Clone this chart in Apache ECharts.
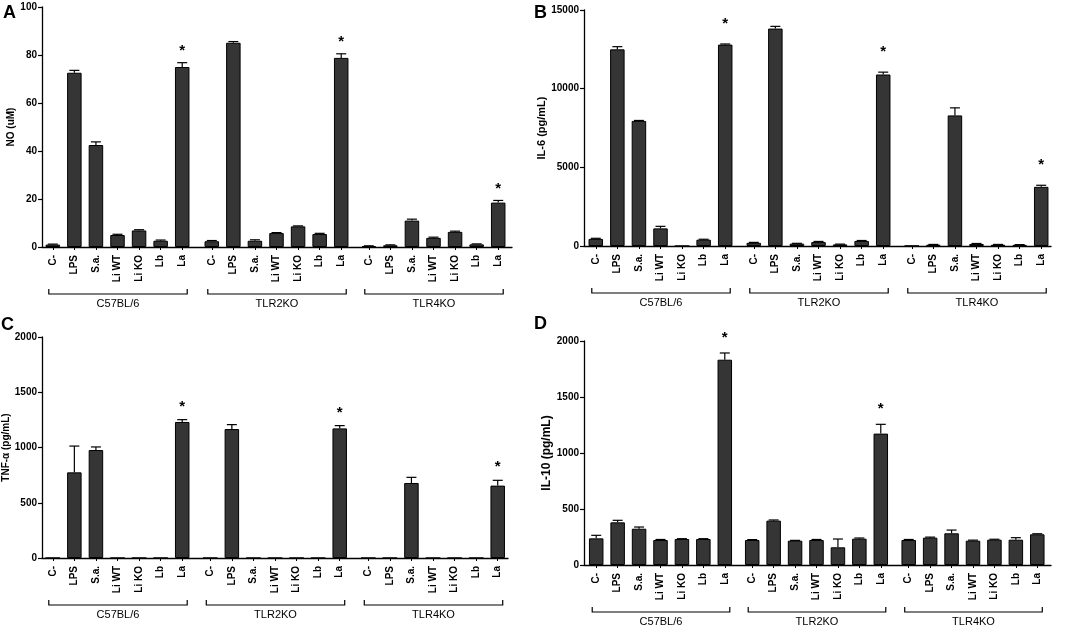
<!DOCTYPE html>
<html>
<head>
<meta charset="utf-8">
<script src="https://cdn.jsdelivr.net/npm/echarts@6/dist/echarts.min.js"></script>
<style>
html, body { margin: 0; padding: 0; background: #fff; }
#chart { width: 1074px; height: 630px; }
</style>
</head>
<body>
<div id="chart"></div>
<script>
var treatments = ["C-", "LPS", "S.a.", "Li WT", "Li KO", "Lb", "La"];
var strains = ["C57BL/6", "TLR2KO", "TLR4KO"];

// one row per strain, columns follow treatments
var noMean = [
  [1.0, 72.6, 42.5, 5.0, 6.9, 2.6, 75.0],
  [2.4, 85.1, 2.6, 5.8, 8.6, 5.4, 78.8],
  [0.4, 0.7, 11.0, 3.8, 6.3, 1.1, 18.5]
];
var noErr = [
  [0.2, 1.0, 1.3, 0.3, 0.3, 0.3, 1.8],
  [0.3, 0.5, 0.4, 0.2, 0.2, 0.3, 1.7],
  [0.1, 0.2, 0.6, 0.3, 0.3, 0.2, 0.9]
];
var noStar = ["La", "La", "La"];

var il6Mean = [
  [450, 12500, 7950, 1120, 0, 400, 12800],
  [200, 13820, 150, 250, 100, 320, 10900],
  [10, 80, 8300, 130, 80, 70, 3760]
];
var il6Err = [
  [40, 170, 30, 130, 0, 30, 40],
  [30, 140, 20, 40, 20, 30, 150],
  [0, 20, 480, 30, 20, 20, 100]
];
var il6Star = ["La", "La", "La"];

var tnfMean = [
  [0, 775, 977, 0, 0, 0, 1231],
  [0, 1167, 0, 0, 0, 0, 1173],
  [0, 0, 679, 0, 0, 0, 655]
];
var tnfErr = [
  [0, 238, 28, 0, 0, 0, 21],
  [0, 40, 0, 0, 0, 0, 25],
  [0, 0, 51, 0, 0, 0, 48]
];
var tnfStar = ["La", "La", "La"];

var il10Mean = [
  [238, 381, 324, 223, 232, 232, 1833],
  [223, 396, 217, 223, 158, 235, 1173],
  [223, 244, 283, 217, 226, 226, 274]
];
var il10Err = [
  [27, 18, 15, 5, 3, 3, 60],
  [4, 6, 3, 5, 74, 6, 83],
  [5, 5, 29, 5, 4, 18, 5]
];
var il10Star = ["La", "La", ""];

var panels = [
  { letter: "A", yName: "NO (uM)", max: 100, interval: 20, mean: noMean, err: noErr, star: noStar,
    x: 42, top: 7, bottom: 247, end: 512, starts: [42, 201, 358], gw: 151, nameGap: 26, nameSize: 10, starGap: 12 },
  { letter: "B", yName: "IL-6 (pg/mL)", max: 15000, interval: 5000, mean: il6Mean, err: il6Err, star: il6Star,
    x: 584, top: 10, bottom: 246, end: 1051, starts: [585, 743, 901], gw: 151, nameGap: 34, nameSize: 11, starGap: 20 },
  { letter: "C", yName: "TNF-\u03b1 (pg/mL)", max: 2000, interval: 500, mean: tnfMean, err: tnfErr, star: tnfStar,
    x: 42, top: 337, bottom: 558, end: 508, starts: [42, 199.5, 357.5], gw: 151, nameGap: 29, nameSize: 10, starGap: 13 },
  { letter: "D", yName: "IL-10 (pg/mL)", max: 2000, interval: 500, mean: il10Mean, err: il10Err, star: il10Star,
    x: 584, top: 341, bottom: 565, end: 1051, starts: [585.5, 741.5, 898], gw: 150, nameGap: 31, nameSize: 12, starGap: 15 }
];

var FONT = "Liberation Sans, Arial, sans-serif";

function errorRender(starGap) {
  return function (params, api) {
    var x = api.value(0), m = api.value(1), e = api.value(2);
    var base = api.coord([x, m]);
    var top = api.coord([x, m + e]);
    var kids = [];
    if (e > 0) {
      kids.push({ type: "line", shape: { x1: base[0], y1: base[1], x2: top[0], y2: top[1] },
        style: { stroke: "#000", lineWidth: 1.2 } });
      kids.push({ type: "line", shape: { x1: top[0] - 5, y1: top[1], x2: top[0] + 5, y2: top[1] },
        style: { stroke: "#000", lineWidth: 1.2 } });
    }
    if (api.value(3)) {
      kids.push({ type: "text", style: { text: "*", x: top[0], y: top[1] - starGap, align: "center",
        verticalAlign: "middle", font: "bold 15px " + FONT, fill: "#000" } });
    }
    return { type: "group", children: kids };
  };
}

var grids = [], xAxes = [], yAxes = [], series = [], groupAxis = [];

panels.forEach(function (p, pi) {
  // frame grid: y axis and the continuous x axis line
  var fi = grids.length;
  grids.push({ left: p.x, top: p.top, width: p.end - p.x, height: p.bottom - p.top, outerBoundsMode: "none" });
  xAxes.push({ gridIndex: fi, type: "value", min: 0, max: 1,
    axisLine: { show: true, lineStyle: { color: "#000", width: 1.3 } },
    axisTick: { show: false }, axisLabel: { show: false }, splitLine: { show: false } });
  yAxes.push({ gridIndex: fi, type: "value", min: 0, max: p.max, interval: p.interval,
    name: p.yName, nameLocation: "middle", nameGap: p.nameGap,
    nameTextStyle: { fontFamily: FONT, fontWeight: "bold", fontSize: p.nameSize, color: "#000" },
    axisLine: { show: true, lineStyle: { color: "#000", width: 1.3 } },
    axisTick: { show: true, length: 4, lineStyle: { color: "#000", width: 1.2 } },
    axisLabel: { fontFamily: FONT, fontWeight: "bold", fontSize: 10, color: "#000", margin: 5,
      formatter: function (v) { return String(v); } },
    splitLine: { show: false } });

  strains.forEach(function (s, gi) {
    var idx = grids.length;
    grids.push({ left: p.starts[gi], top: p.top, width: p.gw, height: p.bottom - p.top, outerBoundsMode: "none" });
    xAxes.push({ gridIndex: idx, type: "category", data: treatments,
      axisLine: { show: false },
      axisTick: { show: true, alignWithLabel: true, length: 3, lineStyle: { color: "#000", width: 1 } },
      axisLabel: { rotate: 90, interval: 0, fontFamily: FONT, fontWeight: "bold", fontSize: 10, color: "#000", margin: 8 } });
    yAxes.push({ gridIndex: idx, type: "value", min: 0, max: p.max, interval: p.interval, show: false,
      splitLine: { show: false } });
    groupAxis.push({ panel: pi, strain: gi, axis: idx });
    series.push({ type: "bar", xAxisIndex: idx, yAxisIndex: idx, data: p.mean[gi], barWidth: 14.5,
      itemStyle: { color: "#353535", borderColor: "#000", borderWidth: 1 }, animation: false, silent: true });
    series.push({ type: "custom", xAxisIndex: idx, yAxisIndex: idx, renderItem: errorRender(p.starGap),
      data: treatments.map(function (t, ti) {
        return [ti, p.mean[gi][ti], p.err[gi][ti], p.star[gi] === t ? 1 : 0];
      }), z: 5, animation: false, silent: true });
  });
});

var letterPos = [[3, 4], [534, 4], [1, 316], [534, 315]];
var graphics = panels.map(function (p, pi) {
  return { type: "text", left: letterPos[pi][0], top: letterPos[pi][1],
    style: { text: p.letter, font: "bold 18px " + FONT, fill: "#000" } };
});

var chart = echarts.init(document.getElementById("chart"), null, { renderer: "canvas" });
chart.setOption({ animation: false, grid: grids, xAxis: xAxes, yAxis: yAxes, series: series, graphic: graphics });

// strain brackets under each group of bars
groupAxis.forEach(function (g) {
  var p = panels[g.panel];
  var x1 = chart.convertToPixel({ xAxisIndex: g.axis }, treatments[0]) - 4;
  var x2 = chart.convertToPixel({ xAxisIndex: g.axis }, treatments[treatments.length - 1]) + 5;
  var y = p.bottom + 47;
  graphics.push({ type: "polyline", shape: { points: [[x1, y - 5], [x1, y], [x2, y], [x2, y - 5]] },
    style: { stroke: "#000", lineWidth: 1.2, fill: null } });
  graphics.push({ type: "text", x: (x1 + x2) / 2, y: y + 10,
    style: { text: strains[g.strain], font: "11px " + FONT, fill: "#000", align: "center", verticalAlign: "middle" } });
});
chart.setOption({ graphic: graphics });
</script>
</body>
</html>
